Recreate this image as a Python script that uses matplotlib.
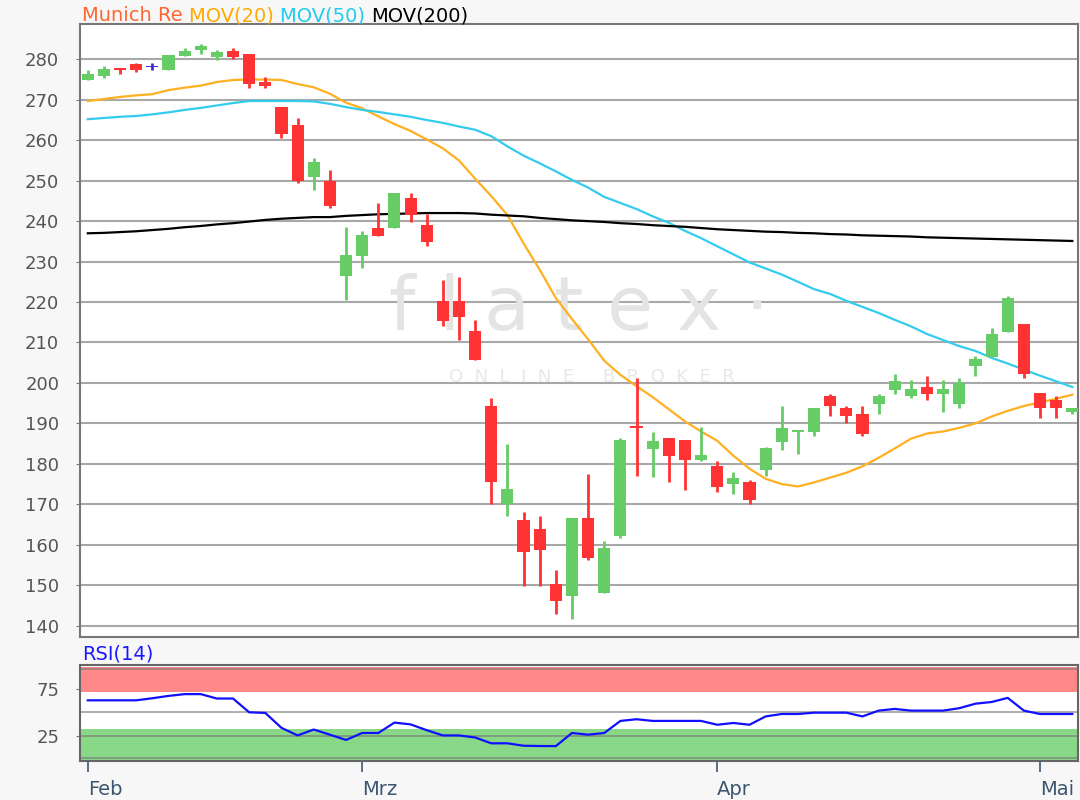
import matplotlib
matplotlib.use("Agg")
import matplotlib.pyplot as plt
import numpy as np

# daily candles, Munich Re
opens = [275.0, 275.9, 277.7, 278.8, 278.2, 277.4, 280.8, 282.3, 280.7, 282.1,
         281.2, 274.4, 268.3, 263.8, 250.8, 250.0, 226.5, 231.4, 238.2, 238.4,
         245.6, 239.1, 220.3, 220.3, 212.9, 194.2, 170.1, 166.1, 164.0, 150.3,
         147.4, 166.5, 148.0, 162.2, 189.2, 183.6, 186.3, 185.9, 180.9, 179.4,
         175.0, 175.4, 178.5, 185.5, 188.0, 187.9, 196.7, 193.8, 192.3, 194.9,
         198.3, 196.8, 199.0, 197.2, 194.8, 204.2, 206.5, 212.6, 214.5, 197.6,
         195.8, 192.9]
highs = [277.3, 278.3, 277.7, 279.2, 279.2, 281.1, 282.7, 283.7, 282.2, 282.7,
         281.2, 275.6, 268.3, 265.4, 255.5, 252.6, 238.6, 237.6, 244.6, 247.0,
         247.0, 241.7, 225.4, 226.2, 215.5, 196.3, 184.9, 168.2, 167.0, 153.8,
         166.5, 177.5, 161.0, 186.4, 201.1, 187.8, 186.3, 185.9, 189.2, 180.8,
         177.9, 176.0, 184.2, 194.2, 188.3, 193.7, 197.2, 194.2, 194.2, 197.2,
         202.2, 200.7, 201.6, 200.7, 201.1, 206.7, 213.5, 221.5, 214.5, 197.6,
         196.7, 193.8]
lows = [274.9, 275.5, 276.5, 276.9, 277.4, 277.4, 280.8, 281.4, 279.9, 280.1,
        272.8, 272.8, 260.5, 249.5, 247.6, 243.3, 220.5, 228.5, 236.4, 238.4,
        239.9, 233.9, 214.1, 210.6, 205.7, 170.1, 167.2, 149.9, 149.9, 142.9,
        141.7, 156.3, 148.0, 161.7, 177.1, 176.7, 175.6, 173.6, 180.6, 173.1,
        172.5, 170.1, 177.1, 183.5, 182.4, 186.9, 191.9, 190.0, 186.9, 192.4,
        197.2, 196.4, 195.8, 192.9, 193.8, 201.8, 206.5, 212.6, 201.2, 191.3,
        191.3, 192.3]
closes = [276.3, 277.7, 277.4, 277.4, 278.2, 281.1, 282.1, 283.3, 281.7, 280.6,
          273.8, 273.4, 261.5, 250.0, 254.5, 243.8, 231.7, 236.6, 236.4, 247.0,
          241.5, 234.9, 215.2, 216.2, 205.7, 175.6, 173.9, 158.3, 158.8, 146.0,
          166.5, 156.7, 159.2, 185.9, 189.0, 185.7, 182.0, 181.0, 182.3, 174.2,
          176.4, 171.1, 183.8, 188.8, 188.3, 193.7, 194.4, 191.9, 187.4, 196.7,
          200.5, 198.6, 197.2, 198.6, 200.1, 206.0, 212.1, 221.0, 202.3, 193.9,
          193.8, 193.8]

mov20 = [269.7, 270.2, 270.7, 271.1, 271.4, 272.4, 273.0, 273.5, 274.4, 274.9,
         275.0, 275.0, 274.9, 273.9, 273.1, 271.5, 269.3, 267.9, 265.9, 264.0,
         262.3, 260.2, 258.0, 255.0, 250.5, 246.2, 241.5, 234.5, 228.0, 221.0,
         215.8, 210.8, 205.5, 202.0, 199.2, 196.5, 193.5, 190.5, 188.0, 185.7,
         182.0, 178.8, 176.3, 175.0, 174.4, 175.4, 176.6, 177.8, 179.4, 181.5,
         183.8, 186.2, 187.5, 188.0, 188.9, 190.0, 191.7, 193.1, 194.3, 195.2,
         196.1, 197.1]
mov50 = [265.2, 265.5, 265.8, 266.0, 266.4, 266.9, 267.5, 268.0, 268.6, 269.2,
         269.7, 269.7, 269.7, 269.7, 269.6, 269.0, 268.2, 267.5, 267.0, 266.4,
         265.8, 265.0, 264.3, 263.4, 262.6, 261.0, 258.5, 256.2, 254.3, 252.3,
         250.2, 248.3, 246.0, 244.5, 243.0, 241.2, 239.6, 237.6, 235.8, 233.8,
         231.8, 229.8, 228.3, 226.8, 225.0, 223.2, 222.0, 220.3, 218.8, 217.3,
         215.6, 214.0, 212.1, 210.6, 209.1, 207.9, 206.2, 204.8, 203.3, 201.8,
         200.4, 199.0]
mov200 = [237.0, 237.1, 237.3, 237.5, 237.8, 238.1, 238.5, 238.8, 239.2, 239.5,
          239.9, 240.3, 240.6, 240.8, 241.0, 241.0, 241.3, 241.5, 241.7, 241.8,
          241.9, 242.0, 242.0, 242.0, 241.9, 241.6, 241.4, 241.2, 240.8, 240.5,
          240.2, 240.0, 239.8, 239.5, 239.3, 239.0, 238.8, 238.6, 238.3, 238.0,
          237.8, 237.6, 237.4, 237.3, 237.1, 237.0, 236.8, 236.7, 236.5, 236.4,
          236.3, 236.2, 236.0, 235.9, 235.8, 235.7, 235.6, 235.5, 235.4, 235.3,
          235.2, 235.1]
rsi14 = [62.8, 62.8, 62.8, 62.8, 65.0, 67.5, 69.4, 69.4, 64.7, 64.7,
         50.0, 49.3, 33.4, 25.3, 31.6, 26.1, 20.5, 27.9, 27.9, 39.0,
         37.1, 30.9, 25.3, 25.3, 23.1, 16.9, 16.9, 14.3, 14.0, 13.9,
         27.9, 26.1, 27.9, 40.8, 42.6, 40.8, 40.8, 40.8, 40.8, 36.7,
         38.6, 36.7, 45.6, 48.2, 48.2, 49.6, 49.6, 49.6, 45.6, 51.8,
         53.6, 51.8, 51.8, 51.8, 54.4, 59.2, 61.0, 65.4, 51.8, 48.2,
         48.2, 48.2]

# month labels and the candle index where each month tick sits
month_labels = ["Feb", "Mrz", "Apr", "Mai"]
month_ticks = [0, 17, 39, 59]
price_ticks = list(range(140, 290, 10))

green = "#66cc66"
red = "#ff3333"
doji = "#4b28d8"

fig = plt.figure(figsize=(10.8, 8), dpi=100, facecolor="#f7f7f7")
ax = fig.add_axes([0.0741, 0.2038, 0.924, 0.766])
rsi_ax = fig.add_axes([0.0741, 0.04875, 0.924, 0.12])

o = np.array(opens)
h = np.array(highs)
l = np.array(lows)
c = np.array(closes)
x = np.arange(len(o))

cols = np.where(c > o, green, np.where(c < o, red, doji))
body_h = np.maximum(np.abs(c - o), 0.4)
body_b = np.where(np.abs(c - o) < 0.4, (o + c) / 2 - 0.2, np.minimum(o, c))

ax.vlines(x, l, h, colors=cols, lw=2, zorder=3)
ax.bar(x, body_h, bottom=body_b, width=0.75, color=cols, linewidth=0, zorder=4)

ax.plot(x, mov20, color="#ffb020", lw=1.6, zorder=2)
ax.plot(x, mov50, color="#33ccee", lw=1.6, zorder=2)
ax.plot(x, mov200, color="black", lw=1.6, zorder=2)

# watermark
ax.text(0.50, 0.535, "f l a t e x ·", transform=ax.transAxes, fontsize=54,
        color="#e4e4e4", ha="center", va="center", zorder=1)
ax.text(0.513, 0.424, "O  N  L  I  N  E     B  R  O  K  E  R", transform=ax.transAxes,
        fontsize=13, color="#e8e8e8", ha="center", va="center", zorder=1)

ax.set_xlim(-0.48, 61.35)
ax.set_ylim(137.2, 288.7)
ax.set_yticks(price_ticks)
ax.yaxis.grid(True, color="#a8a8a8", lw=1.5)
ax.set_axisbelow(True)
ax.tick_params(axis="x", bottom=False, labelbottom=False)
ax.tick_params(axis="y", length=3, color="#777777", labelsize=13,
               labelcolor="#555555", pad=12)
for s in ax.spines.values():
    s.set_color("#777777")
    s.set_linewidth(1.5)

# RSI panel
rsi_ax.axhspan(72, 98, color="#ff8888", lw=0, zorder=1)
rsi_ax.axhspan(-2.2, 32.4, color="#88d888", lw=0, zorder=1)
for lv in [1, 25, 50, 96]:
    rsi_ax.axhline(lv, color="#777777", lw=1.2, alpha=0.7, zorder=2)
rsi_ax.plot(x, rsi14, color="#1010ff", lw=1.6, zorder=3)
rsi_ax.set_xlim(-0.48, 61.35)
rsi_ax.set_ylim(-2, 100.5)
rsi_ax.set_yticks([25, 75])
rsi_ax.set_xticks(month_ticks)
rsi_ax.set_xticklabels(month_labels)
for lbl in rsi_ax.get_xticklabels():
    lbl.set_ha("left")
rsi_ax.tick_params(axis="y", length=3, color="#777777", labelsize=13,
                   labelcolor="#555555", pad=12)
rsi_ax.tick_params(axis="x", length=8, width=1.2, color="#3d5670", labelsize=14,
                   labelcolor="#3d5670", pad=6)
for s in rsi_ax.spines.values():
    s.set_color("#666666")
    s.set_linewidth(1.5)

fig.text(0.0765, 1 - 660 / 800, "RSI(14)", color="#1a1aff", fontsize=14,
         va="baseline")

# title legend, pieces put side by side
pieces = [("Munich Re ", "#ff6633"), ("MOV(20) ", "#ffaa00"),
          ("MOV(50) ", "#22ccee"), ("MOV(200)", "black")]
renderer = fig.canvas.get_renderer()
xpos = 82
for txt, col in pieces:
    t = fig.text(xpos / 1080, 1 - 21 / 800, txt, color=col, fontsize=14,
                 va="baseline")
    xpos = t.get_window_extent(renderer).x1

fig.savefig("out.png", dpi=100, facecolor=fig.get_facecolor())
